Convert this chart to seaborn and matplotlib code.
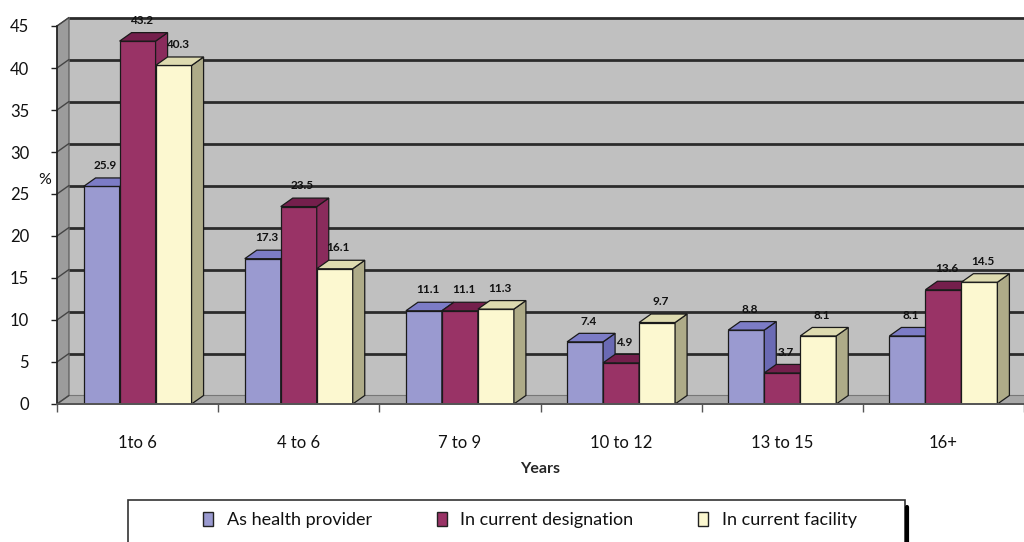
import numpy as np
import pandas as pd
import matplotlib
matplotlib.use("Agg")
import matplotlib.pyplot as plt
from matplotlib.patches import Polygon, Rectangle, Patch
from matplotlib.lines import Line2D
import seaborn as sns

# ---- data -------------------------------------------------------------
years = ["1to 6", "4 to 6", "7 to 9", "10 to 12", "13 to 15", "16+"]
health_provider = [25.9, 17.3, 11.1, 7.4, 8.8, 8.1]
current_designation = [43.2, 23.5, 11.1, 4.9, 3.7, 13.6]
current_facility = [40.3, 16.1, 11.3, 9.7, 8.1, 14.5]
series_names = ["As health provider", "In current designation", "In current facility"]
y_ticks = [0, 5, 10, 15, 20, 25, 30, 35, 40, 45]

series_values = [health_provider, current_designation, current_facility]
df = pd.DataFrame({
    "Years": np.tile(years, 3),
    "Percent": np.concatenate(series_values),
    "Series": np.repeat(series_names, len(years)),
})

# ---- styling ----------------------------------------------------------
front_colors = ["#9a9ad0", "#993366", "#fcf8d0"]
top_colors = ["#7c7cc6", "#741f4c", "#dedbb0"]
side_colors = ["#6a6ab4", "#8a2b5c", "#aeab88"]

sns.set_theme(style="white")
plt.rcParams["font.family"] = ["Lato", "DejaVu Sans"]
plt.rcParams["text.color"] = "#111111"
plt.rcParams["xtick.color"] = "#111111"
plt.rcParams["ytick.color"] = "#111111"

W, H = 1024, 542
fig = plt.figure(figsize=(W / 100, H / 100), dpi=100)
fig.patch.set_facecolor("white")

px_per_unit = 8.4
zero_px = 404
y_max = 47
ax_top_px = zero_px - y_max * px_per_unit
ax = fig.add_axes([57 / W, (H - zero_px) / H, (W - 57) / W, (zero_px - ax_top_px) / H])
ax.set_facecolor("none")

sns.barplot(data=df, x="Years", y="Percent", hue="Series", palette=front_colors,
            width=0.67, saturation=1, edgecolor="#1a1a1a", linewidth=0.9,
            legend=False, ax=ax)
ax.set_xlim(-0.5, len(years) - 0.5)
ax.set_ylim(0, y_max)

# depth of the pseudo-3D projection, in data units
cat_px = (W - 57) / len(years)
dx = 12 / cat_px
dy = 8.5 / px_per_unit
x_left, x_right = -0.5, len(years) - 0.5
top_val = y_ticks[-1]

# back wall, left wall and floor
ax.add_patch(Rectangle((x_left + dx, dy), (x_right - x_left) + 1, top_val,
                       facecolor="#c0c0c0", edgecolor="none", zorder=0.1, clip_on=False))
ax.add_patch(Polygon([(x_left, 0), (x_left + dx, dy), (x_left + dx, top_val + dy), (x_left, top_val)],
                     closed=True, facecolor="#9c9c9c", edgecolor="#555555", lw=0.8,
                     zorder=0.2, clip_on=False))
ax.add_patch(Polygon([(x_left, 0), (x_right + 1, 0), (x_right + 1 + dx, dy), (x_left + dx, dy)],
                     closed=True, facecolor="#a8a8a8", edgecolor="#777777", lw=0.8,
                     zorder=0.2, clip_on=False))
for v in y_ticks:
    if v > 0:
        ax.plot([x_left + dx, x_right + 1], [v + dy, v + dy], color="#2b2b2b", lw=2.0,
                zorder=0.3, clip_on=False, solid_capstyle="butt")
    ax.plot([x_left, x_left + dx], [v, v + dy], color="#444444", lw=1.0,
            zorder=0.3, clip_on=False)

# give every bar a top and a side face
bars = []
for k, cont in enumerate(ax.containers):
    for j, p in enumerate(cont.patches):
        bars.append((p.get_x(), k, j, p))
bars.sort(key=lambda b: b[0])
for i, (_, k, j, p) in enumerate(bars):
    z = 2 + i * 0.01
    p.set_zorder(z)
    x0, w, h = p.get_x(), p.get_width(), p.get_height()
    top = Polygon([(x0, h), (x0 + w, h), (x0 + w + dx, h + dy), (x0 + dx, h + dy)],
                  closed=True, facecolor=top_colors[k], edgecolor="#1a1a1a", lw=0.9, zorder=z + 0.005)
    side = Polygon([(x0 + w, 0), (x0 + w + dx, dy), (x0 + w + dx, h + dy), (x0 + w, h)],
                   closed=True, facecolor=side_colors[k], edgecolor="#1a1a1a", lw=0.9, zorder=z + 0.005)
    ax.add_patch(side)
    ax.add_patch(top)
    ax.annotate(f"{series_values[k][j]:.1f}", (x0 + w / 2 + dx * 0.3, h),
                xytext=(0, 15), textcoords="offset points", ha="center", va="center",
                fontsize=8.5, fontweight="bold", color="#111111", zorder=10)

# axes, ticks and labels
for s in ["top", "right"]:
    ax.spines[s].set_visible(False)
ax.spines["left"].set_bounds(0, top_val)
ax.spines["left"].set_color("#222222")
ax.spines["left"].set_linewidth(1.2)
ax.spines["bottom"].set_color("#555555")
ax.spines["bottom"].set_linewidth(1.4)
ax.spines["left"].set_zorder(5)
ax.spines["bottom"].set_zorder(5)

ax.set_yticks(y_ticks)
ax.set_yticklabels([str(v) for v in y_ticks])
ax.tick_params(axis="y", which="major", direction="out", length=4, width=1.0,
               color="#222222", pad=16, labelsize=12, left=True)
ax.set_xticks(range(len(years)))
ax.set_xticklabels(years)
ax.tick_params(axis="x", which="major", length=0, pad=22, labelsize=12)
ax.set_xticks(np.arange(-0.5, len(years)), minor=True)
ax.tick_params(axis="x", which="minor", direction="out", length=6, width=1.0,
               color="#555555", bottom=True)
ax.set_ylabel("")
ax.set_xlabel("Years", fontsize=11.5, fontweight="bold", labelpad=8)
fig.text(45 / W, 1 - 180 / H, "%", fontsize=11.5, ha="center", va="center")

# legend box
leg_left, leg_right, leg_top = 128, 905, 500
fig.patches.append(Rectangle((leg_left / W, -0.05), (leg_right - leg_left) / W,
                             (H - leg_top) / H + 0.05, transform=fig.transFigure,
                             facecolor="white", edgecolor="#333333", lw=1.2))
fig.lines.append(Line2D([(leg_right + 2) / W] * 2, [0, 1 - 507 / H], transform=fig.transFigure,
                        color="black", lw=3))
handles = [Patch(facecolor=c, edgecolor="#222222", lw=1.0) for c in front_colors]
fig.legend(handles, series_names, loc="center", bbox_to_anchor=(530 / W, 1 - 520 / H),
           ncol=3, frameon=False, fontsize=13, handlelength=0.55, handleheight=0.8,
           handletextpad=0.75, columnspacing=3.6)

fig.savefig("out.png", dpi=100)
